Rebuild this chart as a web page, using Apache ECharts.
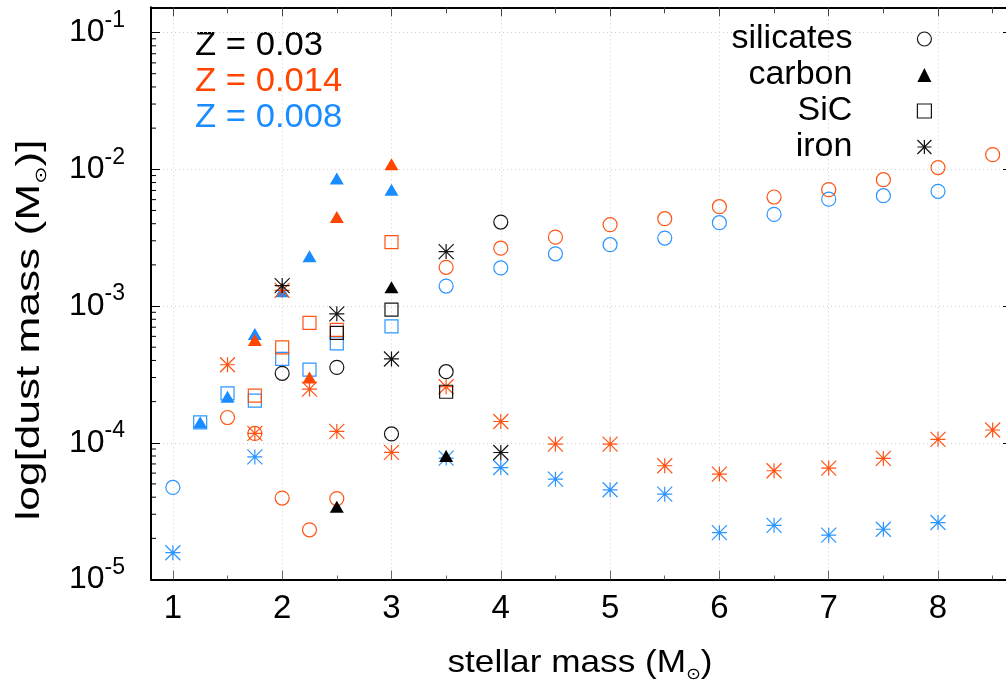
<!DOCTYPE html>
<html><head><meta charset="utf-8">
<script src="https://cdn.jsdelivr.net/npm/echarts@6/dist/echarts.min.js"></script>
<style>html,body{margin:0;padding:0;background:#fff}#c{width:1006px;height:690px}</style>
</head><body><div id="c"></div>
<script>
const FONT = 'Liberation Sans';
const BLACK = '#000000', ORANGE = '#ff4500', BLUE = '#1a8cff';

// axis settings
const xMin = 0.8, xMax = 8.622;
const yMin = 1e-5, yMax = 0.153;
const xTicks = [1, 2, 3, 4, 5, 6, 7, 8];
const xMinorTicks = [1.5, 2.5, 3.5, 4.5, 5.5, 6.5, 7.5, 8.5];
const yMinorTicks = [2e-5,3e-5,4e-5,5e-5,6e-5,7e-5,8e-5,9e-5,
  2e-4,3e-4,4e-4,5e-4,6e-4,7e-4,8e-4,9e-4,
  2e-3,3e-3,4e-3,5e-3,6e-3,7e-3,8e-3,9e-3,
  2e-2,3e-2,4e-2,5e-2,6e-2,7e-2,8e-2,9e-2];

// Z = 0.03 (black)
const sil_z003  = [[2,3.22e-4],[2.5,3.56e-4],[3,1.16e-4],[3.5,3.31e-4],[4,4.11e-3]];
const carb_z003 = [[2.5,3.4e-5],[3,1.37e-3],[3.5,8.0e-5]];
const sic_z003  = [[2.5,6.36e-4],[3,9.42e-4],[3.5,2.36e-4]];
const iron_z003 = [[2,1.41e-3],[2.5,8.77e-4],[3,4.1e-4],[3.5,2.5e-3],[4,8.49e-5]];

// Z = 0.014 (orange)
const sil_z0014  = [[1.5,1.53e-4],[1.75,1.17e-4],[2,3.94e-5],[2.25,2.31e-5],[2.5,3.91e-5],[3.5,1.92e-3],[4,2.65e-3],[4.5,3.19e-3],[5,3.94e-3],[5.5,4.35e-3],[6,5.33e-3],[6.5,6.27e-3],[7,7.1e-3],[7.5,8.39e-3],[8,1.03e-2],[8.5,1.28e-2]];
const carb_z0014 = [[1.75,5.65e-4],[2.25,3.0e-4],[2.5,4.48e-3],[3,1.09e-2]];
const sic_z0014  = [[1.75,2.21e-4],[2,4.99e-4],[2.25,7.53e-4],[2.5,6.7e-4],[3,2.93e-3]];
const iron_z0014 = [[1.5,3.72e-4],[1.75,1.17e-4],[2,1.30e-3],[2.25,2.47e-4],[2.5,1.21e-4],[3,8.5e-5],[3.5,2.57e-4],[4,1.43e-4],[4.5,9.77e-5],[5,9.77e-5],[5.5,6.79e-5],[6,5.9e-5],[6.5,6.24e-5],[7,6.53e-5],[7.5,7.68e-5],[8,1.06e-4],[8.5,1.24e-4]];

// Z = 0.008 (blue)
const sil_z0008  = [[1,4.71e-5],[3.5,1.40e-3],[4,1.90e-3],[4.5,2.41e-3],[5,2.81e-3],[5.5,3.14e-3],[6,4.07e-3],[6.5,4.68e-3],[7,6.05e-3],[7.5,6.41e-3],[8,6.9e-3]];
const carb_z0008 = [[1.25,1.41e-4],[1.5,2.17e-4],[1.75,6.25e-4],[2,1.28e-3],[2.25,2.31e-3],[2.5,8.55e-3],[3,7.1e-3]];
const sic_z0008  = [[1.25,1.41e-4],[1.5,2.3e-4],[1.75,2.03e-4],[2,4.1e-4],[2.25,3.43e-4],[2.5,5.34e-4],[3,7.11e-4]];
const iron_z0008 = [[1,1.57e-5],[1.75,7.88e-5],[3.5,7.73e-5],[4,6.59e-5],[4.5,5.42e-5],[5,4.53e-5],[5.5,4.21e-5],[6,2.2e-5],[6.5,2.49e-5],[7,2.11e-5],[7.5,2.33e-5],[8,2.61e-5]];

const species = ['silicates', 'carbon', 'SiC', 'iron'];
const zLabels = ['Z = 0.03', 'Z = 0.014', 'Z = 0.008'];
const xTitle = ['stellar mass (M', '⊙', ')'];
const yTitle = ['log[dust mass (M', '⊙', ')]'];

const ASTER = 'path://M0,-1L0,1M-1,0L1,0M-1,-1L1,1M-1,1L1,-1';
const SYM = {
  silicates: {symbol: 'circle', size: 14, hollow: true},
  carbon: {symbol: 'triangle', size: [14, 12], hollow: false},
  SiC: {symbol: 'rect', size: 13, hollow: true},
  iron: {symbol: ASTER, size: 15, hollow: true}
};

function styleFor(sp, color) {
  const s = SYM[sp];
  return s.hollow
    ? {color: 'transparent', borderColor: color, borderWidth: 1.2, opacity: 0.92}
    : {color: color, borderWidth: 0, opacity: 1};
}
function mk(name, sp, color, data) {
  return {
    type: 'scatter', name: name, data: data,
    symbol: SYM[sp].symbol, symbolSize: SYM[sp].size,
    itemStyle: styleFor(sp, color),
    emphasis: {disabled: true}, silent: true,
    xAxisIndex: 0, yAxisIndex: 0, clip: false
  };
}

const series = [];
// legend-only series (black keys)
species.forEach(sp => series.push({
  type: 'scatter', name: sp, data: [], symbol: SYM[sp].symbol, symbolSize: SYM[sp].size,
  itemStyle: styleFor(sp, BLACK), xAxisIndex: 0, yAxisIndex: 0
}));
series.push(
  mk('silicates Z=0.008', 'silicates', BLUE, sil_z0008),
  mk('SiC Z=0.008', 'SiC', BLUE, sic_z0008),
  mk('carbon Z=0.008', 'carbon', BLUE, carb_z0008),
  mk('iron Z=0.008', 'iron', BLUE, iron_z0008),
  mk('silicates Z=0.014', 'silicates', ORANGE, sil_z0014),
  mk('SiC Z=0.014', 'SiC', ORANGE, sic_z0014),
  mk('carbon Z=0.014', 'carbon', ORANGE, carb_z0014),
  mk('iron Z=0.014', 'iron', ORANGE, iron_z0014),
  mk('silicates Z=0.03', 'silicates', BLACK, sil_z003),
  mk('SiC Z=0.03', 'SiC', BLACK, sic_z003),
  mk('carbon Z=0.03', 'carbon', BLACK, carb_z003),
  mk('iron Z=0.03', 'iron', BLACK, iron_z003)
);
// minor log ticks on the left y axis
series.push({
  type: 'custom', name: 'minor ticks', silent: true, clip: false,
  xAxisIndex: 0, yAxisIndex: 0,
  data: yMinorTicks.map(v => [xMin, v]),
  renderItem: function (params, api) {
    const a = api.coord([xMin, api.value(1)]);
    return {type: 'line', shape: {x1: a[0], y1: a[1], x2: a[0] + 5, y2: a[1]}, style: {stroke: '#000', lineWidth: 1}};
  }
});

const richTick = {
  b: {fontSize: 32, fontFamily: FONT, color: '#000'},
  s: {fontSize: 23, fontFamily: FONT, color: '#000', verticalAlign: 'top', padding: [0, 0, 24, 0]}
};
function richTitle(fs) {
  return {
    n: {fontSize: fs, fontFamily: FONT, fill: '#000', lineHeight: 40, verticalAlign: 'middle'},
    o: {fontSize: 16, fontFamily: 'DejaVu Sans', fill: '#000', lineHeight: 16, verticalAlign: 'bottom'}
  };
}
function titleText(parts) { return '{n|' + parts[0] + '}{o|' + parts[1] + '}{n|' + parts[2] + '}'; }

const dotted = {show: true, lineStyle: {type: [1, 3], color: '#d0d0d0', width: 1}};

const option = {
  animation: false,
  backgroundColor: '#fff',
  grid: {left: 151, right: 0, top: 7.3, bottom: 110.5, containLabel: false},
  legend: {
    data: species.map(s => ({name: s, icon: SYM[s].symbol})),
    orient: 'vertical', align: 'right', right: 69, top: 17,
    itemWidth: 14, itemHeight: 14, itemGap: 2, selectedMode: false,
    itemStyle: {borderWidth: 1.2},
    textStyle: {fontSize: 34, fontFamily: FONT, color: '#000', lineHeight: 34, padding: [0, 60, 0, 0]}
  },
  graphic: zLabels.map((t, i) => ({
    type: 'text', x: 195, y: 46 + i * 36, scaleX: 1.05, silent: true,
    style: {text: t, fontSize: 33, fontFamily: FONT, fill: [BLACK, ORANGE, BLUE][i], align: 'left', verticalAlign: 'middle'}
  })).concat([
    {type: 'text', x: 580, y: 663, scaleX: 1.1, silent: true,
      style: {text: titleText(xTitle), rich: richTitle(32), align: 'center', verticalAlign: 'middle'}},
    {type: 'text', x: 30, y: 330, rotation: Math.PI / 2, scaleX: 1.3, silent: true,
      style: {text: titleText(yTitle), rich: richTitle(34), align: 'center', verticalAlign: 'middle'}}
  ]),
  xAxis: [
    {type: 'value', min: xMin, max: xMax, position: 'bottom',
      axisLine: {show: true, onZero: false, lineStyle: {color: '#000', width: 2}},
      axisTick: {show: true, inside: true, length: 9, customValues: xTicks, lineStyle: {color: '#666', width: 1}},
      axisLabel: {show: true, customValues: xTicks, fontSize: 33, fontFamily: FONT, color: '#000', margin: 13},
      splitLine: dotted},
    {type: 'value', min: xMin, max: xMax, position: 'bottom',
      axisLine: {show: false}, axisLabel: {show: false}, splitLine: {show: false},
      axisTick: {show: true, inside: true, length: 4, customValues: xMinorTicks, lineStyle: {color: '#666', width: 1}}},
    {type: 'value', min: xMin, max: xMax, position: 'top',
      axisLine: {show: true, onZero: false, lineStyle: {color: '#000', width: 2}}, axisLabel: {show: false}, splitLine: {show: false},
      axisTick: {show: true, inside: true, length: 9, customValues: xTicks, lineStyle: {color: '#444', width: 1}}},
    {type: 'value', min: xMin, max: xMax, position: 'top',
      axisLine: {show: false}, axisLabel: {show: false}, splitLine: {show: false},
      axisTick: {show: true, inside: true, length: 6, customValues: xMinorTicks, lineStyle: {color: '#444', width: 1}}}
  ],
  yAxis: [
    {type: 'log', logBase: 10, min: yMin, max: yMax, position: 'left',
      axisLine: {show: true, lineStyle: {color: '#000', width: 2}},
      axisTick: {show: true, inside: true, length: 9, lineStyle: {color: '#000', width: 1}},
      axisLabel: {show: true, margin: 26, rich: richTick,
        formatter: function (v) {
          const l = Math.log10(v), e = Math.round(l);
          if (Math.abs(l - e) > 1e-6) return '';
          return '{b|10}{s|' + e + '}';
        }},
      splitLine: dotted},
    {type: 'log', logBase: 10, min: yMin, max: yMax, position: 'right',
      axisLine: {show: false},
      axisTick: {show: true, inside: true, length: 3, lineStyle: {color: '#000', width: 1}},
      axisLabel: {show: false}, splitLine: {show: false}}
  ],
  series: series
};

const chart = echarts.init(document.getElementById('c'), null, {renderer: 'canvas'});
chart.setOption(option);
</script>
</body></html>
